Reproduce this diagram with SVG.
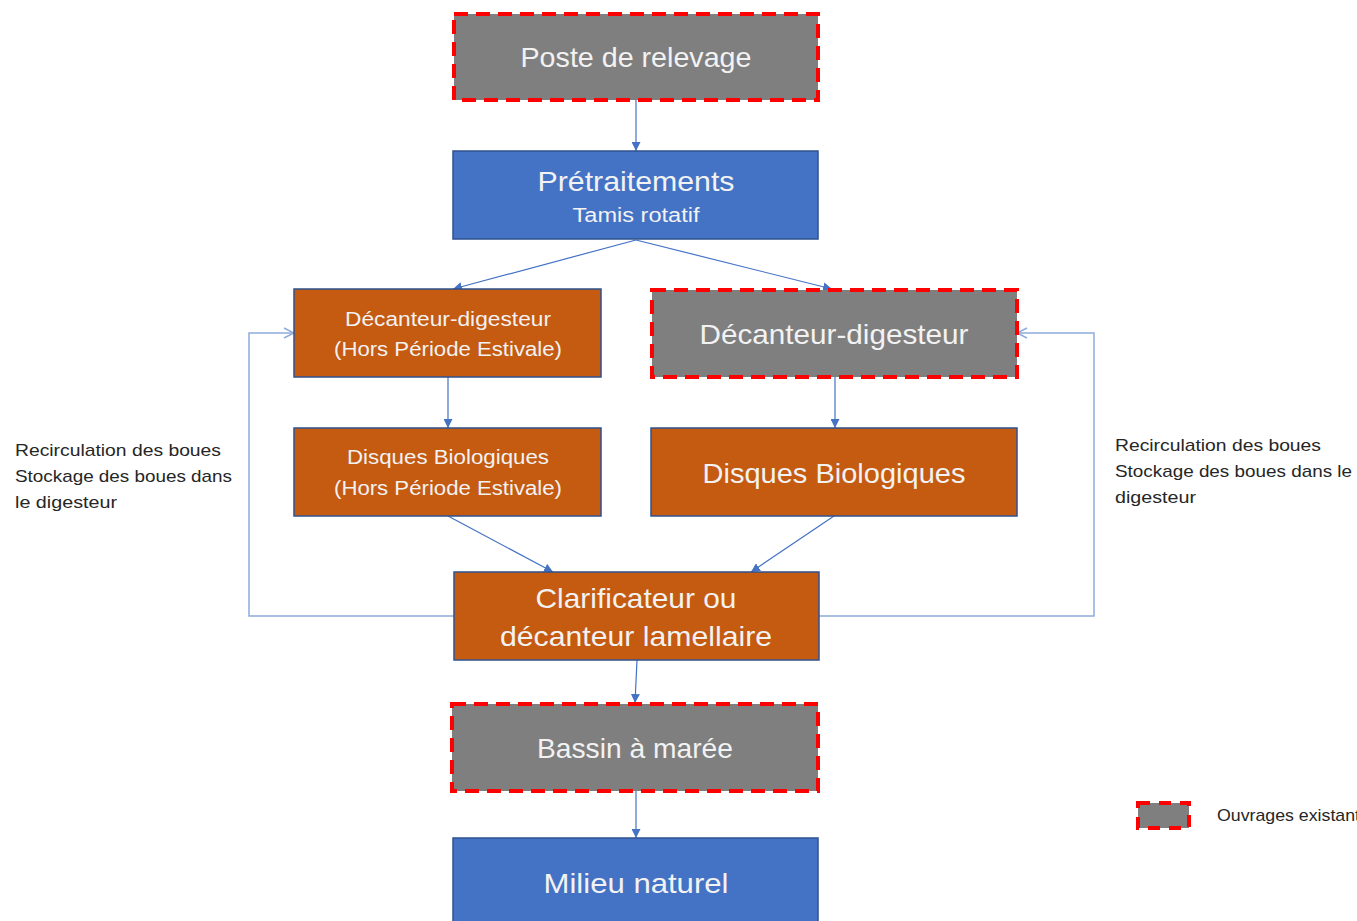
<svg xmlns="http://www.w3.org/2000/svg" width="1357" height="921" viewBox="0 0 1357 921">
<style>
text{font-family:"Liberation Sans",Arial,sans-serif;fill:#f2f2f2;text-anchor:middle}
.side{fill:#262626;text-anchor:start;font-size:17px}
.gray{fill:#7f7f7f;stroke:#ff0000;stroke-width:4;stroke-dasharray:14 8}
.blue{fill:#4472c4;stroke:#2f528f;stroke-width:1.5}
.orange{fill:#c55a11;stroke:#2f528f;stroke-width:1.5}
.c{fill:none;stroke:#4472c4;stroke-width:1.2}
.r{fill:none;stroke:#8faadc;stroke-width:1.5}
</style>
<defs>
<marker id="tri" viewBox="0 0 10 10" refX="10" refY="5" markerWidth="9" markerHeight="9" markerUnits="userSpaceOnUse" orient="auto">
<path d="M0,0 L10,5 L0,10 z" fill="#4472c4"/>
</marker>
<marker id="open" viewBox="0 0 12 12" refX="11" refY="6" markerWidth="12" markerHeight="12" markerUnits="userSpaceOnUse" orient="auto">
<path d="M1,1 L11,6 L1,11" fill="none" stroke="#8faadc" stroke-width="1.5"/>
</marker>
</defs>
<rect width="1357" height="921" fill="#ffffff"/>
<g id="connectors">
<line class="c" x1="636" y1="100" x2="636" y2="151" marker-end="url(#tri)"/>
<line class="c" x1="636" y1="240" x2="453" y2="289" marker-end="url(#tri)"/>
<line class="c" x1="636" y1="240" x2="832" y2="289" marker-end="url(#tri)"/>
<line class="c" x1="448" y1="377" x2="448" y2="428" marker-end="url(#tri)"/>
<line class="c" x1="835" y1="377" x2="835" y2="428" marker-end="url(#tri)"/>
<line class="c" x1="448" y1="516" x2="553" y2="572" marker-end="url(#tri)"/>
<line class="c" x1="834" y1="516" x2="751" y2="572" marker-end="url(#tri)"/>
<line class="c" x1="637" y1="660" x2="635" y2="703" marker-end="url(#tri)"/>
<line class="c" x1="636" y1="791" x2="636" y2="838" marker-end="url(#tri)"/>
<polyline class="r" points="454,616 249,616 249,333 294,333" marker-end="url(#open)"/>
<polyline class="r" points="819,616 1094,616 1094,333 1017,333" marker-end="url(#open)"/>
</g>
<g id="poste">
<rect class="gray" x="454" y="14" width="364" height="86"/>
<text x="636" y="67" font-size="28" textLength="231" lengthAdjust="spacingAndGlyphs">Poste de relevage</text>
</g>
<g id="pretraitements">
<rect class="blue" x="453" y="151" width="365" height="88"/>
<text x="636" y="191" font-size="28" textLength="197" lengthAdjust="spacingAndGlyphs">Prétraitements</text>
<text x="636" y="222" font-size="20" textLength="127" lengthAdjust="spacingAndGlyphs">Tamis rotatif</text>
</g>
<g id="decanteur-left">
<rect class="orange" x="294" y="289" width="307" height="88"/>
<text x="448" y="326" font-size="20" textLength="206" lengthAdjust="spacingAndGlyphs">Décanteur-digesteur</text>
<text x="448" y="356" font-size="20" textLength="228" lengthAdjust="spacingAndGlyphs">(Hors Période Estivale)</text>
</g>
<g id="decanteur-right">
<rect class="gray" x="652" y="290" width="365" height="87"/>
<text x="834" y="344" font-size="28" textLength="269" lengthAdjust="spacingAndGlyphs">Décanteur-digesteur</text>
</g>
<g id="disques-left">
<rect class="orange" x="294" y="428" width="307" height="88"/>
<text x="448" y="464" font-size="20" textLength="202" lengthAdjust="spacingAndGlyphs">Disques Biologiques</text>
<text x="448" y="495" font-size="20" textLength="228" lengthAdjust="spacingAndGlyphs">(Hors Période Estivale)</text>
</g>
<g id="disques-right">
<rect class="orange" x="651" y="428" width="366" height="88"/>
<text x="834" y="483" font-size="28" textLength="263" lengthAdjust="spacingAndGlyphs">Disques Biologiques</text>
</g>
<g id="clarificateur">
<rect class="orange" x="454" y="572" width="365" height="88"/>
<text x="636" y="608" font-size="28" textLength="201" lengthAdjust="spacingAndGlyphs">Clarificateur ou</text>
<text x="636" y="646" font-size="28" textLength="272" lengthAdjust="spacingAndGlyphs">décanteur lamellaire</text>
</g>
<g id="bassin">
<rect class="gray" x="452" y="704" width="366" height="87"/>
<text x="635" y="758" font-size="28" textLength="196" lengthAdjust="spacingAndGlyphs">Bassin à marée</text>
</g>
<g id="milieu">
<rect class="blue" x="453" y="838" width="365" height="90"/>
<text x="636" y="893" font-size="28" textLength="185" lengthAdjust="spacingAndGlyphs">Milieu naturel</text>
</g>
<g id="label-left">
<text class="side" x="15" y="456" textLength="206" lengthAdjust="spacingAndGlyphs">Recirculation des boues</text>
<text class="side" x="15" y="482" textLength="217" lengthAdjust="spacingAndGlyphs">Stockage des boues dans</text>
<text class="side" x="15" y="508" textLength="102" lengthAdjust="spacingAndGlyphs">le digesteur</text>
</g>
<g id="label-right">
<text class="side" x="1115" y="451" textLength="206" lengthAdjust="spacingAndGlyphs">Recirculation des boues</text>
<text class="side" x="1115" y="477" textLength="237" lengthAdjust="spacingAndGlyphs">Stockage des boues dans le</text>
<text class="side" x="1115" y="503" textLength="81" lengthAdjust="spacingAndGlyphs">digesteur</text>
</g>
<g id="legend">
<rect x="1138" y="803" width="51" height="25" fill="#7f7f7f" stroke="#ff0000" stroke-width="4" stroke-dasharray="12 9"/>
<text class="side" x="1217" y="821" textLength="143" lengthAdjust="spacingAndGlyphs">Ouvrages existant</text>
</g>
</svg>
